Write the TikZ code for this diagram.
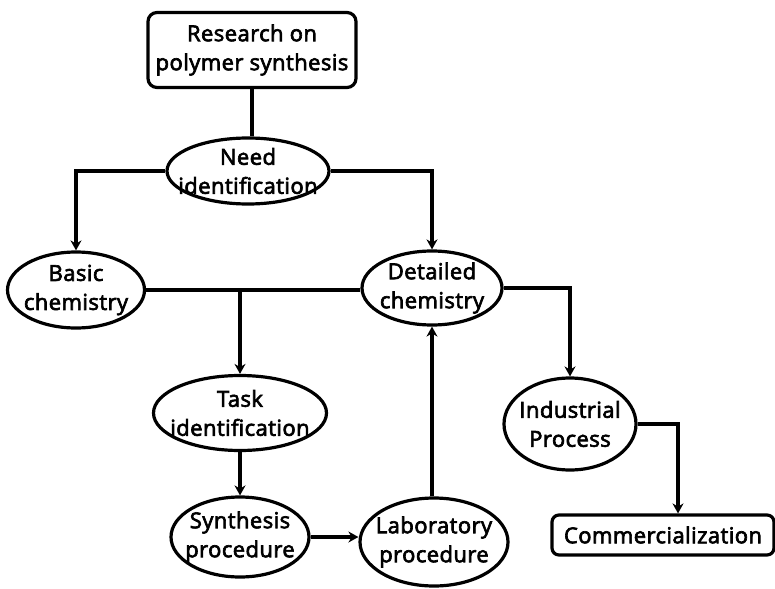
\documentclass[tikz,border=0pt]{standalone}
\usepackage{fontspec}
\setmainfont{Open Sans}[FakeBold=3, LetterSpace=2]
\usetikzlibrary{shapes.geometric,arrows.meta}
\begin{document}
\begin{tikzpicture}[x=1pt,y=-1pt,
  txt/.style={font=\fontsize{22}{29}\selectfont, align=center, inner sep=0pt},
  oval/.style={draw, ellipse, line width=3.2pt, inner sep=0pt, label={[txt]center:#1}},
  rbox/.style={draw, rounded corners=9pt, line width=3.2pt, txt},
  link/.style={line width=3.2pt},
  arr/.style={link, -{Stealth[length=10pt,width=11pt]}}]
\useasboundingbox (0,0) rectangle (775,588);
\node[rbox, minimum width=208pt, minimum height=75pt] (research) at (252,50) {Research on\\polymer synthesis};
\node[oval={Need\\identification}, minimum width=162pt, minimum height=66pt] (need) at (248,171) {};
\node[oval={Basic\\chemistry}, minimum width=137pt, minimum height=76pt] (basic) at (76,290) {};
\node[oval={Detailed\\chemistry}, minimum width=140pt, minimum height=74pt] (detailed) at (432,288) {};
\node[oval={Task\\identification}, minimum width=173pt, minimum height=75pt] (task) at (240,413) {};
\node[oval={Synthesis\\procedure}, minimum width=138pt, minimum height=80pt] (synth) at (240,537) {};
\node[oval={Laboratory\\procedure}, minimum width=148pt, minimum height=88pt] (lab) at (434,542) {};
\node[oval={Industrial\\Process}, minimum width=132pt, minimum height=92pt] (ind) at (570,424) {};
\node[rbox, rounded corners=7pt, minimum width=222pt, minimum height=40pt] (comm) at (663,535) {Commercialization};
\coordinate (drop) at (678,420);

\draw[link] (research.south) -- (research.south |- need.north);
\draw[arr] (need.west) -| (basic.north);
\draw[arr] (need.east) -| (detailed.north);
\draw[link] (basic.east) -- (detailed.west |- basic.east);
\draw[arr] (task.north |- basic.east) -- (task.north);
\draw[arr] (detailed.east) -| (ind.north);
\draw[arr] (task.south) -- (synth.north);
\draw[arr] (synth.east) -- (lab.west |- synth.east);
\draw[arr] (lab.north -| detailed.south) -- (detailed.south);
\draw[arr] (ind.east) -| (drop |- comm.north);
\end{tikzpicture}
\end{document}
